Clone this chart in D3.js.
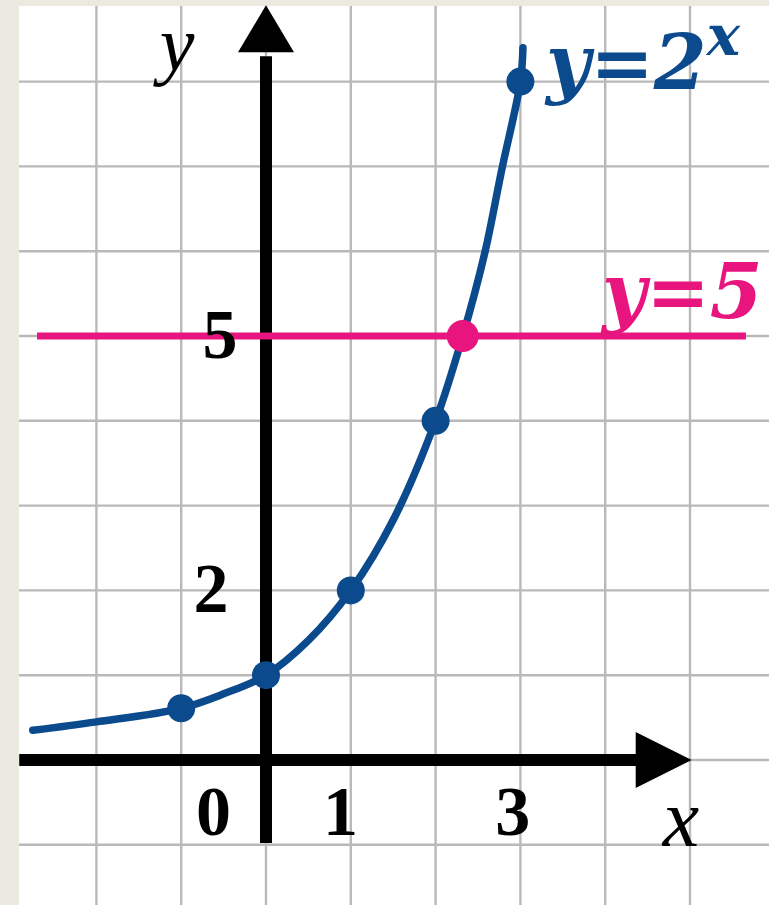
<!DOCTYPE html>
<html>
<head>
<meta charset="utf-8">
<script src="https://cdn.jsdelivr.net/npm/d3@7"></script>
<style>
  html, body { margin: 0; padding: 0; background: #ece9e0; }
  svg { display: block; }
</style>
</head>
<body>
<div id="chart"></div>
<script>
const W = 769, H = 905

// points marked on y = 2^x
const dotX = [-1, 0, 1, 2, 3]
const dotY = [0.61, 1, 2, 4, 8]
// samples
const curveX = [-2.75, -2, -1, -0.5, 0, 0.5, 1, 1.5, 2, 2.32, 2.58, 2.78, 3, 3.03]
const curveY = [0.35, 0.45, 0.61, 0.78, 1, 1.41, 2, 2.83, 4, 5, 5.98, 6.96, 8, 8.4]
// y = 5 line and intersection
const lineY = 5
const lineFrom = -2.7, lineTo = 5.66
const crossX = 2.32
// tick labels
const xTicks = [{v: 0, t: "0", dx: -0.62}, {v: 1, t: "1", dx: -0.12}, {v: 3, t: "3", dx: -0.09}]
const yTicks = [{v: 5, t: "5"}, {v: 2, t: "2"}]
const gridX = [-2, -1, 0, 1, 2, 3, 4, 5]
const gridY = [-1, 0, 1, 2, 3, 4, 5, 6, 7, 8]

const BLUE = "#0b4a8c"
const PINK = "#e8157f"

const x = d3.scaleLinear().domain([-3, 6]).range([11.6, 774.8])
const y = d3.scaleLinear().domain([0, 8]).range([760, 81.6])

const svg = d3.select("#chart").append("svg")
    .attr("width", W)
    .attr("height", H)

svg.append("rect")
    .attr("x", 0).attr("y", 0).attr("width", W).attr("height", H)
    .attr("fill", "#ece9e0")
svg.append("rect")
    .attr("x", 19).attr("y", 6).attr("width", W - 19).attr("height", H - 6)
    .attr("fill", "#ffffff")

// grid
const grid = svg.append("g").attr("stroke", "#b9b9b9").attr("stroke-width", 2.4)
grid.selectAll("line.gx").data(gridX).enter().append("line")
    .attr("x1", d => x(d)).attr("x2", d => x(d))
    .attr("y1", 6).attr("y2", H)
grid.selectAll("line.gy").data(gridY).enter().append("line")
    .attr("y1", d => y(d)).attr("y2", d => y(d))
    .attr("x1", 19).attr("x2", W)

// axes
const axes = svg.append("g").attr("fill", "#000")
axes.append("line")
    .attr("x1", x(-2.91)).attr("x2", x(4.4))
    .attr("y1", y(0)).attr("y2", y(0))
    .attr("stroke", "#000").attr("stroke-width", 12)
const xt = x(5.02), x0 = y(0)
axes.append("path")
    .attr("d", `M${xt},${x0} L${xt - 56},${x0 - 28} L${xt - 56},${x0 + 28} Z`)
axes.append("line")
    .attr("x1", x(0)).attr("x2", x(0))
    .attr("y1", y(-0.98)).attr("y2", y(8.3))
    .attr("stroke", "#000").attr("stroke-width", 12)
const yt = y(8.9), y0x = x(0)
axes.append("path")
    .attr("d", `M${y0x},${yt} L${y0x - 28},${yt + 47} L${y0x + 28},${yt + 47} Z`)

// y = 5
svg.append("line")
    .attr("x1", x(lineFrom)).attr("x2", x(lineTo))
    .attr("y1", y(lineY)).attr("y2", y(lineY))
    .attr("stroke", PINK).attr("stroke-width", 7)

// y = 2^x
const pts = curveX.map((v, i) => [v, curveY[i]])
svg.append("path")
    .datum(pts)
    .attr("fill", "none")
    .attr("stroke", BLUE)
    .attr("stroke-width", 7.5)
    .attr("stroke-linecap", "round")
    .attr("d", d3.line().x(d => x(d[0])).y(d => y(d[1])).curve(d3.curveCatmullRom.alpha(0.5)))

svg.selectAll("circle.dot").data(dotX).enter().append("circle")
    .attr("cx", d => x(d))
    .attr("cy", (d, i) => y(dotY[i]))
    .attr("r", 14)
    .attr("fill", BLUE)

svg.append("circle")
    .attr("cx", x(crossX)).attr("cy", y(lineY))
    .attr("r", 16).attr("fill", PINK)

// labels
const serif = "'Liberation Serif', 'DejaVu Serif', serif"
svg.selectAll("text.xt").data(xTicks).enter().append("text")
    .attr("x", d => x(d.v + d.dx))
    .attr("y", 835)
    .attr("text-anchor", "middle")
    .attr("font-family", serif).attr("font-weight", "bold").attr("font-size", 70)
    .text(d => d.t)
svg.selectAll("text.yt").data(yTicks).enter().append("text")
    .attr("x", d => d.v === 5 ? 220 : 211)
    .attr("y", d => y(d.v) + 22)
    .attr("text-anchor", "middle")
    .attr("font-family", serif).attr("font-weight", "bold").attr("font-size", 70)
    .text(d => d.t)

svg.append("text")
    .attr("x", 177).attr("y", 70)
    .attr("text-anchor", "middle")
    .attr("font-family", serif).attr("font-style", "italic").attr("font-size", 78)
    .text("y")
svg.append("text")
    .attr("x", 681).attr("y", 846)
    .attr("text-anchor", "middle")
    .attr("font-family", serif).attr("font-style", "italic").attr("font-size", 82)
    .text("x")

const t1 = svg.append("text")
    .attr("x", 546).attr("y", 89)
    .attr("font-family", "'DejaVu Serif', serif").attr("font-weight", "bold")
    .attr("font-style", "italic").attr("font-size", 76)
    .attr("fill", BLUE)
t1.append("tspan").text("y=2")
t1.append("tspan").attr("dy", -34).attr("font-size", 56).text("x")

svg.append("text")
    .attr("x", 602).attr("y", 318)
    .attr("font-family", "'DejaVu Serif', serif").attr("font-weight", "bold")
    .attr("font-style", "italic").attr("font-size", 76)
    .attr("fill", PINK)
    .text("y=5")
</script>
</body>
</html>
